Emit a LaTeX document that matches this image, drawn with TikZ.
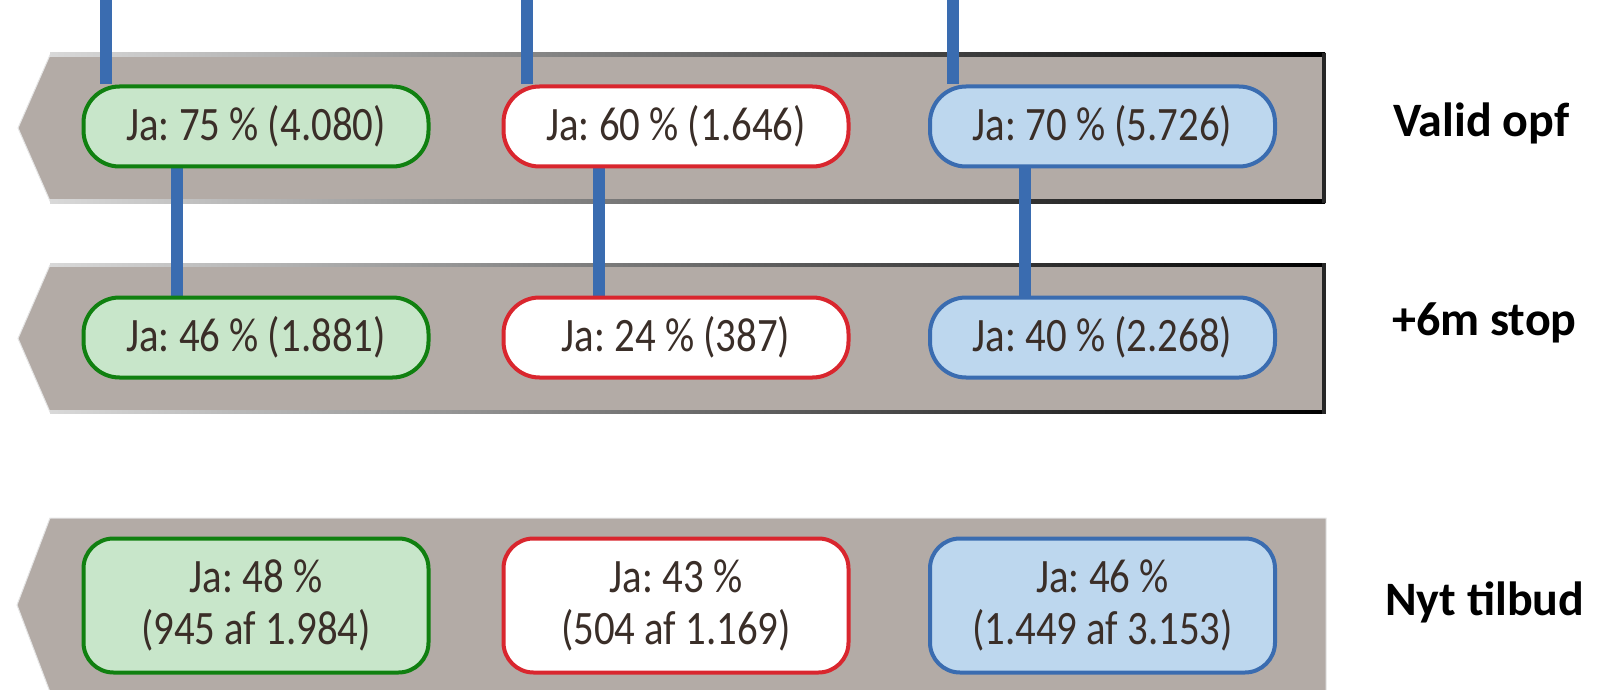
\documentclass[tikz,border=0pt]{standalone}
\usepackage{fontspec}
\setmainfont{Carlito}
\newfontfamily\boxfont[FakeStretch=0.85]{Carlito}
\usepackage{tikz}
\frenchspacing
\definecolor{bandgray}{RGB}{179,171,166}
\definecolor{yesgreen}{RGB}{200,230,202}
\definecolor{linegreen}{RGB}{16,128,16}
\definecolor{linered}{RGB}{217,38,46}
\definecolor{yesblue}{RGB}{189,215,238}
\definecolor{lineblue}{RGB}{58,108,176}
\definecolor{textbrown}{RGB}{58,46,40}
\pgfdeclarelayer{back}
\pgfsetlayers{back,main}

\begin{document}
\begin{tikzpicture}[x=1pt,y=-1pt,
    box/.style={draw,line width=4pt,rounded corners=36pt,minimum width=345pt,
      minimum height=80pt,inner sep=0pt,text=textbrown,align=center,
      font=\boxfont\fontsize{48}{52}\selectfont},
    tallbox/.style={box,rounded corners=30pt,minimum height=134pt},
    greenbox/.style={fill=yesgreen,draw=linegreen},
    redbox/.style={fill=white,draw=linered},
    bluebox/.style={fill=yesblue,draw=lineblue},
    link/.style={draw=lineblue,line width=12pt},
    band/.style={fill=bandgray,draw=gray!20,line width=1pt},
    rowlabel/.style={anchor=base west,inner sep=0pt,
      font=\bfseries\fontsize{48}{56}\selectfont}]
       \useasboundingbox(0,0)rectangle(1607,690);
       \begin{pgfonlayer}{back}
       % bands
       \coordinate(ValidTopLeft)at(50,55);
       \coordinate(ValidTip)at(18,128);
       \coordinate(ValidBottomLeft)at(50,201);
       \coordinate(ValidTopRight)at(1325,55);
       \coordinate(ValidBottomRight)at(1325,201);
       \fill[band](ValidTopLeft)--(ValidTopRight)--(ValidBottomRight)--(ValidBottomLeft)--(ValidTip)--cycle;
       \shade[left color=gray!30, right color=black](50,53)rectangle(1325,56.5);
       \shade[left color=gray!30, right color=black](50,199.5)rectangle(1325,203);
       \fill[black!85](1322,53)rectangle(1326,203);
       \coordinate(StopTopLeft)at(50,265);
       \coordinate(StopTip)at(18,338.5);
       \coordinate(StopBottomLeft)at(50,412);
       \coordinate(StopTopRight)at(1325,265);
       \coordinate(StopBottomRight)at(1325,412);
       \fill[band](StopTopLeft)--(StopTopRight)--(StopBottomRight)--(StopBottomLeft)--(StopTip)--cycle;
       \shade[left color=gray!30, right color=black](50,263)rectangle(1325,266.5);
       \shade[left color=gray!30, right color=black](50,410)rectangle(1325,413.5);
       \fill[black!85](1322,263)rectangle(1326,413.5);
       \coordinate(NewTopLeft)at(50,518);
       \coordinate(NewTip)at(17,605);
       \coordinate(NewBottomLeft)at(50,692);
       \coordinate(NewTopRight)at(1326,518);
       \coordinate(NewBottomRight)at(1326,692);
       \fill[band](NewTopLeft)--(NewTopRight)--(NewBottomRight)--(NewBottomLeft)--(NewTip)--cycle;
       \end{pgfonlayer}
       % boxes
       \node[box,greenbox](g1)at(256,126.5){Ja: 75 \% (4.080)};
       \node[box,redbox](r1)at(676,126.5){Ja: 60 \% (1.646)};
       \node[box,bluebox](b1)at(1102.5,126.5){Ja: 70 \% (5.726)};
       \node[box,greenbox](g2)at(256,337.5){Ja: 46 \% (1.881)};
       \node[box,redbox](r2)at(676,337.5){Ja: 24 \% (387)};
       \node[box,bluebox](b2)at(1102.5,337.5){Ja: 40 \% (2.268)};
       \node[tallbox,greenbox](g3)at(256,605.5){Ja: 48 \%\\(945 af 1.984)};
       \node[tallbox,redbox](r3)at(676,605.5){Ja: 43 \%\\(504 af 1.169)};
       \node[tallbox,bluebox](b3)at(1102.5,605.5){Ja: 46 \%\\(1.449 af 3.153)};
       % links
       \coordinate(GreenTop)at(106,0);
       \coordinate(RedTop)at(527,0);
       \coordinate(BlueTop)at(953,0);
       \begin{pgfonlayer}{back}
       \draw[link](GreenTop)--(GreenTop|-g1.north);
       \draw[link](RedTop)--(RedTop|-r1.north);
       \draw[link](BlueTop)--(BlueTop|-b1.north);
       \draw[link]([xshift=-79pt]g1.south)--([xshift=-79pt]g2.north);
       \draw[link]([xshift=-77pt]r1.south)--([xshift=-77pt]r2.north);
       \draw[link]([xshift=-78pt]b1.south)--([xshift=-78pt]b2.north);
       \end{pgfonlayer}
       % row labels
       \node[rowlabel](valid)at(1393,137){Valid opf};
       \node[rowlabel](stop)at(1392,335){+6m stop};
       \node[rowlabel](new)at(1385,615){Nyt tilbud};
      \end{tikzpicture}
\end{document}
